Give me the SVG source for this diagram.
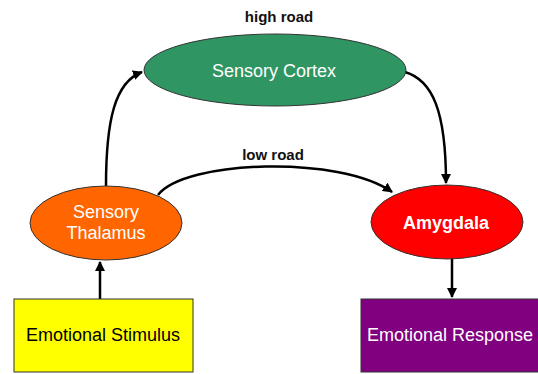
<svg xmlns="http://www.w3.org/2000/svg" width="538" height="374" viewBox="0 0 538 374">
  <style>
    .node { stroke: #333; stroke-width: 1; }
    .lbl { font-family: "Liberation Sans", Arial, sans-serif; font-size: 18px; text-anchor: middle; }
    .road { font-family: "Liberation Sans", Arial, sans-serif; font-size: 15px; font-weight: bold; text-anchor: middle; fill: #111; }
    .edge { fill: none; stroke: #000; stroke-width: 2.5; }
  </style>
  <defs>
    <marker id="arrow" viewBox="0 0 10 10" refX="9" refY="5" markerWidth="4" markerHeight="4" orient="auto" markerUnits="strokeWidth">
      <path d="M0,0 L10,5 L0,10 z" fill="#000"/>
    </marker>
  </defs>
  <rect width="538" height="374" fill="#fff"/>

  <g id="connectors">
    <path class="edge" d="M100,299 L100,262" marker-end="url(#arrow)"/>
    <path class="edge" d="M106,186 C106,120 115,82 142,72" marker-end="url(#arrow)"/>
    <path class="edge" d="M405,72 C432,80 446,110 446,183" marker-end="url(#arrow)"/>
    <path class="edge" d="M158,195 C185,160 340,155 392,192" marker-end="url(#arrow)"/>
    <path class="edge" d="M452,258 L452,297" marker-end="url(#arrow)"/>
  </g>

  <g id="sensory-cortex">
    <ellipse class="node" cx="275" cy="70" rx="131" ry="36" fill="#2f9663"/>
    <text class="lbl" x="274" y="77" fill="#fff">Sensory Cortex</text>
  </g>

  <g id="sensory-thalamus">
    <ellipse class="node" cx="106" cy="223" rx="76" ry="37" fill="#ff6600"/>
    <text class="lbl" x="106" y="218" fill="#fff">Sensory</text>
    <text class="lbl" x="106" y="239" fill="#fff">Thalamus</text>
  </g>

  <g id="amygdala">
    <ellipse class="node" cx="447" cy="222" rx="76" ry="37" fill="#ff0000"/>
    <text class="lbl" x="446" y="229" fill="#fff" font-size="17" font-weight="bold">Amygdala</text>
  </g>

  <g id="emotional-stimulus">
    <rect class="node" x="14" y="299" width="179" height="73" fill="#ffff00"/>
    <text class="lbl" x="103" y="341" fill="#000">Emotional Stimulus</text>
  </g>

  <g id="emotional-response">
    <rect class="node" x="361" y="299" width="180" height="73" fill="#800080"/>
    <text class="lbl" x="450" y="341" fill="#fff">Emotional Response</text>
  </g>

  <g id="road-labels">
    <text class="road" x="279" y="22">high road</text>
    <text class="road" x="273" y="160">low road</text>
  </g>
</svg>
